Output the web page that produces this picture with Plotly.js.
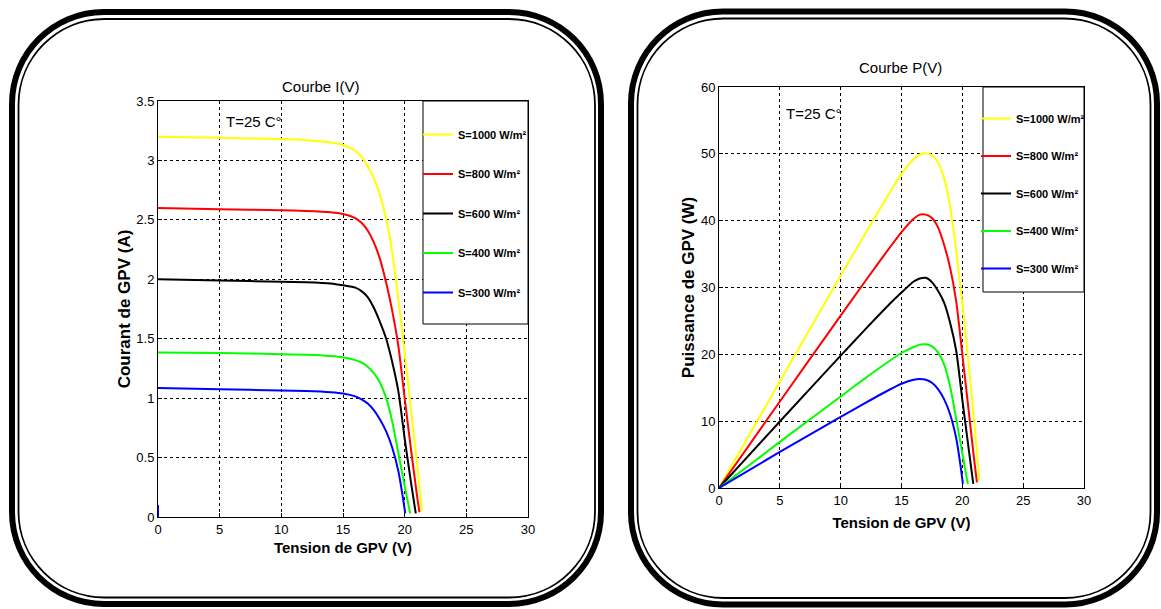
<!DOCTYPE html>
<html>
<head>
<meta charset="utf-8">
<script src="https://cdn.plot.ly/plotly-3.0.1.min.js"></script>
<style>
html,body{margin:0;padding:0;background:#fff;}
#chart{width:1161px;height:609px;}
</style>
</head>
<body>
<div id="chart"></div>
<script>
// ---------- data ----------
const seriesNames = ['S=1000 W/m²', 'S=800 W/m²', 'S=600 W/m²', 'S=400 W/m²', 'S=300 W/m²'];
const seriesColors = ['#ffff00', '#ff0000', '#000000', '#00ff00', '#0000ff'];

// voltages (V)
const V1000 = [0, 5, 10, 12, 14, 15, 16, 16.5, 17, 17.5, 18, 18.5, 19, 19.5, 20, 20.5, 21, 21.4];
const V800  = [0, 5, 10, 12, 14, 15, 16, 16.5, 17, 17.5, 18, 18.5, 19, 19.5, 20, 20.5, 21, 21.2];
const V600  = [0, 5, 10, 12, 14, 15, 16, 16.5, 17, 17.5, 18, 18.5, 19, 19.5, 20, 20.5, 20.9];
const V400  = [0, 5, 10, 12, 14, 15, 16, 16.5, 17, 17.5, 18, 18.5, 19, 19.5, 20, 20.45];
const V300  = [0, 5, 10, 12, 14, 15, 16, 16.5, 17, 17.5, 18, 18.5, 19, 19.5, 19.8, 20.05];

// currents (A) - Courbe I(V)
const I1000 = [3.2, 3.19, 3.18, 3.17, 3.15, 3.13, 3.08, 3.03, 2.95, 2.85, 2.71, 2.51, 2.22, 1.82, 1.38, 0.92, 0.45, 0.05];
const I800  = [2.6, 2.59, 2.58, 2.575, 2.565, 2.55, 2.515, 2.475, 2.41, 2.31, 2.17, 1.97, 1.73, 1.43, 1.0, 0.58, 0.18, 0.04];
const I600  = [2.0, 1.99, 1.98, 1.975, 1.965, 1.95, 1.93, 1.9, 1.85, 1.76, 1.64, 1.5, 1.3, 1.05, 0.66, 0.3, 0.03];
const I400  = [1.385, 1.38, 1.37, 1.365, 1.355, 1.345, 1.32, 1.3, 1.265, 1.21, 1.13, 1.0, 0.8, 0.53, 0.26, 0.03];
const I300  = [1.085, 1.075, 1.065, 1.06, 1.05, 1.04, 1.015, 0.99, 0.955, 0.9, 0.82, 0.72, 0.58, 0.38, 0.2, 0.03];

// small blue segment at V=0 visible in the I(V) plot
const artefactV = [0, 0];
const artefactI = [0, 0.1];

// powers (W) - Courbe P(V)
const P1000 = [0, 15.95, 31.8, 38.0, 44.1, 47.0, 49.2, 49.9, 50.1, 49.8, 48.7, 46.4, 42.1, 35.5, 27.6, 18.9, 9.5, 1.1];
const P800  = [0, 12.95, 25.8, 30.9, 35.9, 38.3, 40.3, 40.9, 40.9, 40.4, 39.0, 36.4, 32.9, 27.9, 20.0, 11.9, 3.8, 0.85];
const P600  = [0, 9.95, 19.8, 23.7, 27.5, 29.25, 30.9, 31.35, 31.45, 30.8, 29.5, 27.75, 24.7, 20.5, 13.2, 6.15, 0.6];
const P400  = [0, 6.9, 13.7, 16.4, 19.0, 20.2, 21.1, 21.45, 21.5, 21.2, 20.3, 18.5, 15.2, 10.3, 5.2, 0.6];
const P300  = [0, 5.4, 10.65, 12.7, 14.7, 15.6, 16.2, 16.3, 16.2, 15.75, 14.8, 13.3, 11.0, 7.4, 4.0, 0.6];

const xTicks = [0, 5, 10, 15, 20, 25, 30];
const yTicksI = [0, 0.5, 1, 1.5, 2, 2.5, 3, 3.5];
const yTicksP = [0, 10, 20, 30, 40, 50, 60];

const titleI = 'Courbe I(V)';
const titleP = 'Courbe P(V)';
const xTitle = 'Tension de GPV (V)';
const yTitleI = 'Courant de GPV (A)';
const yTitleP = 'Puissance de GPV (W)';
const tempLabel = 'T=25 C°';

// ---------- build ----------
const W = 1161, H = 609;
const FONT = 'Liberation Sans Narrow, Arial Narrow, Liberation Sans, Arial, sans-serif';
const ARIAL = 'Liberation Sans, Arial, sans-serif';

const Vs = [V1000, V800, V600, V400, V300];
const Is = [I1000, I800, I600, I400, I300];
const Ps = [P1000, P800, P600, P400, P300];

const traces = [];
for (let k = 0; k < 5; k++) {
  traces.push({
    x: Vs[k], y: Is[k], type: 'scatter', mode: 'lines',
    name: seriesNames[k], line: {color: seriesColors[k], width: 2, shape: 'spline', smoothing: 0.6},
    xaxis: 'x', yaxis: 'y', legend: 'legend', legendgroup: 'a' + k
  });
}
traces.push({
  x: artefactV, y: artefactI, type: 'scatter', mode: 'lines',
  line: {color: seriesColors[4], width: 2}, showlegend: false,
  xaxis: 'x', yaxis: 'y', hoverinfo: 'skip'
});
for (let k = 0; k < 5; k++) {
  traces.push({
    x: Vs[k], y: Ps[k], type: 'scatter', mode: 'lines',
    name: seriesNames[k], line: {color: seriesColors[k], width: 2, shape: 'spline', smoothing: 0.6},
    xaxis: 'x2', yaxis: 'y2', legend: 'legend2', legendgroup: 'b' + k
  });
}

const px = v => v / W;
const py = v => 1 - v / H;

function rrPath(x0, y0, x1, y1, r) {
  const k = 0.5523 * r;
  const P = (x, y) => px(x).toFixed(5) + ',' + py(y).toFixed(5);
  return 'M' + P(x0 + r, y0) +
    ' L' + P(x1 - r, y0) +
    ' C' + P(x1 - r + k, y0) + ' ' + P(x1, y0 + r - k) + ' ' + P(x1, y0 + r) +
    ' L' + P(x1, y1 - r) +
    ' C' + P(x1, y1 - r + k) + ' ' + P(x1 - r + k, y1) + ' ' + P(x1 - r, y1) +
    ' L' + P(x0 + r, y1) +
    ' C' + P(x0 + r - k, y1) + ' ' + P(x0, y1 - r + k) + ' ' + P(x0, y1 - r) +
    ' L' + P(x0, y0 + r) +
    ' C' + P(x0, y0 + r - k) + ' ' + P(x0 + r - k, y0) + ' ' + P(x0 + r, y0) + ' Z';
}

const shapes = [
  {type: 'path', xref: 'paper', yref: 'paper', path: rrPath(12, 12, 601, 604, 92), line: {color: '#000', width: 6}, layer: 'above'},
  {type: 'path', xref: 'paper', yref: 'paper', path: rrPath(18.5, 19, 595, 597.5, 86), line: {color: '#000', width: 1.8}, layer: 'above'},
  {type: 'path', xref: 'paper', yref: 'paper', path: rrPath(631, 11.5, 1157, 604.5, 92), line: {color: '#000', width: 6}, layer: 'above'},
  {type: 'path', xref: 'paper', yref: 'paper', path: rrPath(637.5, 18.5, 1150.5, 598, 86), line: {color: '#000', width: 1.8}, layer: 'above'},
  // legend boxes
  {type: 'rect', xref: 'paper', yref: 'paper', x0: px(423), x1: px(528), y0: py(324), y1: py(101), line: {color: '#000', width: 1}, fillcolor: '#fff', layer: 'above'},
  {type: 'rect', xref: 'paper', yref: 'paper', x0: px(983), x1: px(1084), y0: py(292), y1: py(87), line: {color: '#000', width: 1}, fillcolor: '#fff', layer: 'above'}
];

const axisCommon = {
  showline: true, mirror: true, linecolor: '#000', linewidth: 1,
  showgrid: true, gridcolor: '#000', gridwidth: 1, griddash: '3px,3px',
  zeroline: false, ticks: 'inside', ticklen: 4, tickcolor: '#000',
  tickfont: {family: FONT, size: 13, color: '#000'},
  fixedrange: true
};

const annotations = [
  {text: titleI, xref: 'paper', yref: 'paper', x: px(321), y: py(86), showarrow: false, xanchor: 'center', yanchor: 'middle', font: {family: FONT, size: 15, color: '#000'}},
  {text: titleP, xref: 'paper', yref: 'paper', x: px(900), y: py(68), showarrow: false, xanchor: 'center', yanchor: 'middle', font: {family: FONT, size: 15, color: '#000'}},
  {text: tempLabel, xref: 'paper', yref: 'paper', x: px(224), y: py(122), showarrow: false, xanchor: 'left', yanchor: 'middle', font: {family: FONT, size: 15, color: '#000'}},
  {text: tempLabel, xref: 'paper', yref: 'paper', x: px(784), y: py(113), showarrow: false, xanchor: 'left', yanchor: 'middle', font: {family: FONT, size: 15, color: '#000'}}
];

const legendCommon = {
  bgcolor: 'rgba(0,0,0,0)', borderwidth: 0,
  font: {family: FONT, size: 11, color: '#000', weight: 'bold'},
  traceorder: 'grouped', xanchor: 'left', yanchor: 'top',
  itemwidth: 30
};

const layout = {
  width: W, height: H,
  margin: {l: 0, r: 0, t: 0, b: 0},
  paper_bgcolor: '#fff', plot_bgcolor: '#fff',
  showlegend: true,
  xaxis: Object.assign({}, axisCommon, {
    domain: [px(158), px(528)], range: [0, 30], tickvals: xTicks, anchor: 'y',
    title: {text: xTitle, font: {family: FONT, size: 15, color: '#000', weight: 'bold'}, standoff: 6}
  }),
  yaxis: Object.assign({}, axisCommon, {
    domain: [py(517), py(101)], range: [0, 3.5], tickvals: yTicksI, anchor: 'x',
    title: {text: yTitleI, font: {family: ARIAL, size: 17, color: '#000', weight: 'bold'}, standoff: 1}
  }),
  xaxis2: Object.assign({}, axisCommon, {
    domain: [px(719), px(1084)], range: [0, 30], tickvals: xTicks, anchor: 'y2',
    title: {text: xTitle, font: {family: FONT, size: 15, color: '#000', weight: 'bold'}, standoff: 10}
  }),
  yaxis2: Object.assign({}, axisCommon, {
    domain: [py(488), py(87)], range: [0, 60], tickvals: yTicksP, anchor: 'x2',
    title: {text: yTitleP, font: {family: ARIAL, size: 17, color: '#000', weight: 'bold'}, standoff: 1}
  }),
  legend: Object.assign({}, legendCommon, {x: px(418), y: py(120), tracegroupgap: 20.5}),
  legend2: Object.assign({}, legendCommon, {x: px(976), y: py(104), tracegroupgap: 18.5}),
  shapes: shapes,
  annotations: annotations
};

Plotly.newPlot('chart', traces, layout, {displayModeBar: false, staticPlot: true});
</script>
</body>
</html>
